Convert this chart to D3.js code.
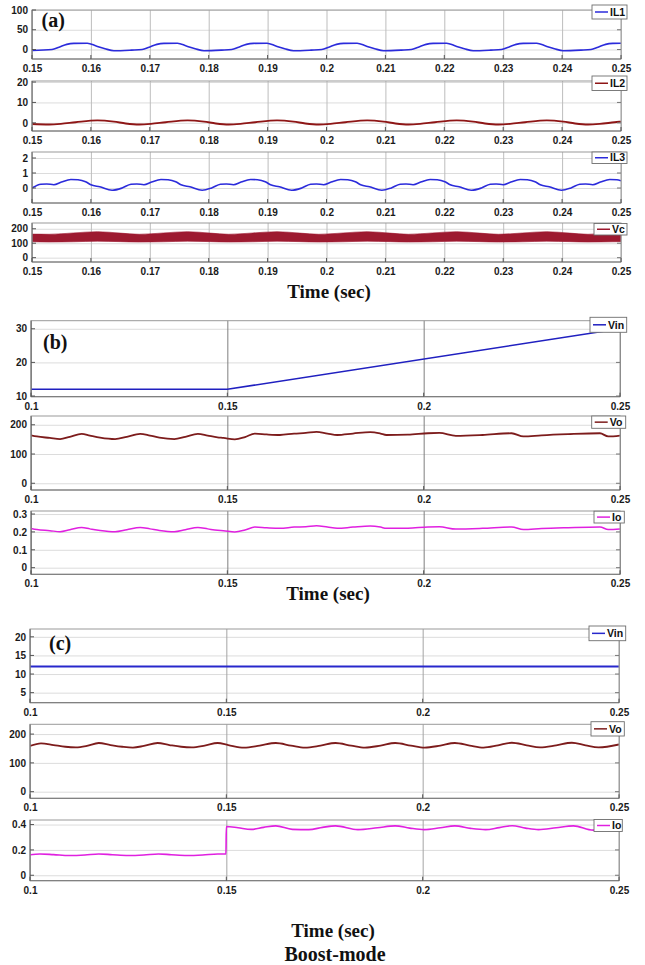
<!DOCTYPE html>
<html><head><meta charset="utf-8">
<script src="https://cdn.jsdelivr.net/npm/d3@7"></script>
<style>body{margin:0;background:#fff}</style>
</head><body><svg id="chart" width="645" height="965"></svg>
<script>
// ---------------- DATA ----------------
const xTicksA = [0.15,0.16,0.17,0.18,0.19,0.20,0.21,0.22,0.23,0.24,0.25];
const xLabelsA = ["0.15","0.16","0.17","0.18","0.19","0.2","0.21","0.22","0.23","0.24","0.25"];
const xTicksBC = [0.10,0.15,0.20,0.25];
const xLabelsBC = ["0.1","0.15","0.2","0.25"];

const yTicksIL1 = [0,50,100],  yLabelsIL1 = ["0","50","100"];
const yTicksIL2 = [0,10,20],   yLabelsIL2 = ["0","10","20"];
const yTicksIL3 = [0,1,2],     yLabelsIL3 = ["0","1","2"];
const yTicksVc  = [0,100,200], yLabelsVc  = ["0","100","200"];
const yTicksVinB = [10,20,30], yLabelsVinB = ["10","20","30"];
const yTicksVo  = [0,100,200], yLabelsVo  = ["0","100","200"];
const yTicksIoB = [0,0.1,0.2,0.3], yLabelsIoB = ["0","0.1","0.2","0.3"];
const yTicksVinC = [5,10,15,20], yLabelsVinC = ["5","10","15","20"];
const yTicksIoC = [0,0.2,0.4], yLabelsIoC = ["0","0.2","0.4"];

const IL1 = [
[0.1500,-2.5],
[0.1534,0],[0.1546,6],[0.1559,13],[0.1571,15.5],[0.1594,16],[0.1609,9],[0.1624,2],[0.1639,-3],[0.1669,-1.5],
[0.1687,0],[0.1699,6],[0.1712,13],[0.1724,15.5],[0.1747,16],[0.1762,9],[0.1777,2],[0.1792,-3],[0.1822,-1.5],
[0.1839,0],[0.1851,6],[0.1864,13],[0.1876,15.5],[0.1899,16],[0.1914,9],[0.1929,2],[0.1944,-3],[0.1974,-1.5],
[0.1992,0],[0.2004,6],[0.2017,13],[0.2029,15.5],[0.2052,16],[0.2067,9],[0.2082,2],[0.2097,-3],[0.2127,-1.5],
[0.2144,0],[0.2156,6],[0.2169,13],[0.2181,15.5],[0.2204,16],[0.2219,9],[0.2234,2],[0.2249,-3],[0.2279,-1.5],
[0.2297,0],[0.2309,6],[0.2322,13],[0.2334,15.5],[0.2357,16],[0.2372,9],[0.2387,2],[0.2402,-3],[0.2432,-1.5],
[0.2449,0],[0.2461,6],[0.2474,13],[0.2486,15.5],[0.2500,16]
];

const IL2 = [
[0.1500,-0.6],
[0.1529,-0.8],[0.1549,-0.5],[0.1574,0.3],[0.1611,1.2],[0.1639,0.6],[0.1659,-0.3],
[0.1682,-0.8],[0.1702,-0.5],[0.1727,0.3],[0.1764,1.2],[0.1792,0.6],[0.1812,-0.3],
[0.1834,-0.8],[0.1854,-0.5],[0.1879,0.3],[0.1916,1.2],[0.1944,0.6],[0.1964,-0.3],
[0.1987,-0.8],[0.2007,-0.5],[0.2032,0.3],[0.2069,1.2],[0.2097,0.6],[0.2117,-0.3],
[0.2139,-0.8],[0.2159,-0.5],[0.2184,0.3],[0.2221,1.2],[0.2249,0.6],[0.2269,-0.3],
[0.2292,-0.8],[0.2312,-0.5],[0.2337,0.3],[0.2374,1.2],[0.2402,0.6],[0.2422,-0.3],
[0.2444,-0.8],[0.2464,-0.5],[0.2489,0.3],[0.2500,0.6]
];

const IL3 = [
[0.1500,0],[0.1515,0.25],[0.1525,0.27],[0.1537,0.22],[0.1550,0.40],[0.1566,0.57],[0.1578,0.55],[0.1591,0.42],[0.1600,0.22],[0.1615,0.08],[0.1636,-0.15],
[0.1653,0],[0.1668,0.25],[0.1678,0.27],[0.1690,0.22],[0.1703,0.40],[0.1719,0.57],[0.1731,0.55],[0.1744,0.42],[0.1753,0.22],[0.1768,0.08],[0.1789,-0.15],
[0.1805,0],[0.1820,0.25],[0.1830,0.27],[0.1842,0.22],[0.1855,0.40],[0.1871,0.57],[0.1883,0.55],[0.1896,0.42],[0.1905,0.22],[0.1920,0.08],[0.1941,-0.15],
[0.1958,0],[0.1973,0.25],[0.1983,0.27],[0.1995,0.22],[0.2008,0.40],[0.2024,0.57],[0.2036,0.55],[0.2049,0.42],[0.2058,0.22],[0.2073,0.08],[0.2094,-0.15],
[0.2110,0],[0.2125,0.25],[0.2135,0.27],[0.2147,0.22],[0.2160,0.40],[0.2176,0.57],[0.2188,0.55],[0.2201,0.42],[0.2210,0.22],[0.2225,0.08],[0.2246,-0.15],
[0.2263,0],[0.2278,0.25],[0.2288,0.27],[0.2300,0.22],[0.2313,0.40],[0.2329,0.57],[0.2341,0.55],[0.2354,0.42],[0.2363,0.22],[0.2378,0.08],[0.2399,-0.15],
[0.2415,0],[0.2430,0.25],[0.2440,0.27],[0.2452,0.22],[0.2465,0.40],[0.2481,0.57],[0.2493,0.55],[0.2500,0.48]
];

// Vc ripple band: [t, lower envelope, upper envelope]
const VcBand = [
[0.1500,110,163],[0.1529,108,162],[0.1570,110,171],[0.1611,114,180],[0.1650,111,170],
[0.1682,108,162],[0.1723,110,171],[0.1764,114,180],[0.1803,111,170],
[0.1834,108,162],[0.1875,110,171],[0.1916,114,180],[0.1955,111,170],
[0.1987,108,162],[0.2028,110,171],[0.2069,114,180],[0.2108,111,170],
[0.2139,108,162],[0.2180,110,171],[0.2221,114,180],[0.2260,111,170],
[0.2292,108,162],[0.2333,110,171],[0.2374,114,180],[0.2413,111,170],
[0.2444,108,162],[0.2485,110,171],[0.2500,111,173]
];

const VinB = [[0.10,12],[0.15,12],[0.25,30]];

const VoB = [
[0.1000,164],[0.1015,160],[0.1048,155],[0.1074,151],[0.1099,159],[0.1129,169],[0.1150,163],[0.1176,156],
[0.1214,151],[0.1244,159],[0.1278,169],[0.1303,163],[0.1327,156],[0.1365,151],[0.1393,159],[0.1425,169],
[0.1450,163],[0.1475,157],[0.1490,155],[0.1519,150],[0.1545,158],[0.1570,170],[0.1600,167],[0.1634,165],
[0.1670,170],[0.1700,172],[0.1727,176],[0.1755,170],[0.1780,165],[0.1820,170],[0.1864,175],[0.1890,170],
[0.1905,165],[0.1960,166],[0.2011,171],[0.2040,172],[0.2082,162],[0.2150,165],[0.2224,171],[0.2254,160],
[0.2300,164],[0.2368,168],[0.2449,171],[0.2470,160],[0.2500,163]
];

const IoB = [
[0.1000,0.219],[0.1015,0.213],[0.1048,0.207],[0.1074,0.201],[0.1099,0.212],[0.1129,0.225],[0.1150,0.217],[0.1176,0.208],
[0.1214,0.201],[0.1244,0.212],[0.1278,0.225],[0.1303,0.217],[0.1327,0.208],[0.1365,0.201],[0.1393,0.212],[0.1425,0.225],
[0.1450,0.217],[0.1475,0.209],[0.1490,0.207],[0.1519,0.200],[0.1545,0.211],[0.1570,0.227],[0.1600,0.223],[0.1634,0.220],
[0.1670,0.227],[0.1700,0.229],[0.1727,0.235],[0.1755,0.227],[0.1780,0.220],[0.1820,0.227],[0.1864,0.233],[0.1890,0.227],
[0.1905,0.220],[0.1960,0.221],[0.2011,0.228],[0.2040,0.229],[0.2082,0.216],[0.2150,0.220],[0.2224,0.228],[0.2254,0.213],
[0.2300,0.219],[0.2368,0.224],[0.2449,0.228],[0.2470,0.213],[0.2500,0.217]
];

const VinC = [[0.10,12],[0.25,12]];

const VoC = [
[0.1000,159],[0.1028,168],[0.1060,162],[0.1090,156],[0.1117,154],[0.1145,159],[0.1175,169],[0.1205,162],
[0.1235,156],[0.1262,153],[0.1290,159],[0.1325,169],[0.1355,162],[0.1385,156],[0.1412,154],[0.1445,160],
[0.1478,169],[0.1505,162],[0.1545,153],[0.1585,160],[0.1626,169],[0.1665,160],[0.1700,153],[0.1740,160],
[0.1778,169],[0.1818,160],[0.1853,153],[0.1893,160],[0.1930,169],[0.1970,160],[0.2005,153],[0.2045,160],
[0.2082,169],[0.2120,160],[0.2155,153],[0.2192,161],[0.2227,170],[0.2265,161],[0.2299,154],[0.2340,161],
[0.2380,170],[0.2415,161],[0.2448,154],[0.2500,164]
];

const IoC = [
[0.1000,0.162],[0.1025,0.168],[0.1060,0.163],[0.1100,0.156],[0.1140,0.160],[0.1175,0.168],[0.1210,0.162],
[0.1250,0.156],[0.1290,0.160],[0.1327,0.168],[0.1360,0.162],[0.1400,0.156],[0.1440,0.160],[0.1478,0.168],
[0.1499,0.168],[0.1500,0.385],[0.1530,0.375],[0.1563,0.362],[0.1595,0.378],[0.1626,0.390],[0.1668,0.362],
[0.1710,0.360],[0.1745,0.378],[0.1778,0.390],[0.1835,0.360],[0.1885,0.375],[0.1930,0.390],[0.1967,0.372],
[0.2004,0.360],[0.2045,0.375],[0.2082,0.390],[0.2122,0.370],[0.2160,0.360],[0.2195,0.376],[0.2228,0.391],
[0.2262,0.372],[0.2295,0.360],[0.2340,0.375],[0.2384,0.390],[0.2434,0.356],[0.2470,0.365],[0.2500,0.372]
];

// ---------------- LAYOUT ----------------
const panels = [
 {name:"IL1", data:IL1, type:"line", color:"#2b2bdb", width:1.6, left:32, right:621, top:10, bottom:59, yDom:[-24,100], yT:yTicksIL1, yL:yLabelsIL1, xDom:[0.15,0.25], xT:xTicksA, xL:xLabelsA, grid:"#bdbdbd", leg:[592,5,627,19]},
 {name:"IL2", data:IL2, type:"line", color:"#8e1616", width:1.9, left:32, right:621, top:81, bottom:131, yDom:[-4,20.5], yT:yTicksIL2, yL:yLabelsIL2, xDom:[0.15,0.25], xT:xTicksA, xL:xLabelsA, grid:"#bdbdbd", leg:[592,76,627,90.5]},
 {name:"IL3", data:IL3, type:"line", color:"#2b2bdb", width:1.6, left:32, right:621, top:152, bottom:203, yDom:[-1,2.4], yT:yTicksIL3, yL:yLabelsIL3, xDom:[0.15,0.25], xT:xTicksA, xL:xLabelsA, grid:"#bdbdbd", leg:[592,152,627,163.5]},
 {name:"Vc", data:VcBand, type:"band", color:"#9d1a30", width:1, left:32, right:621, top:223, bottom:262, yDom:[-30,240], yT:yTicksVc, yL:yLabelsVc, xDom:[0.15,0.25], xT:xTicksA, xL:xLabelsA, grid:"#bdbdbd", leg:[594,223.5,627,235]},
 {name:"Vin", data:VinB, type:"line", linear:true, color:"#2020c0", width:1.5, left:31, right:620, top:320.7, bottom:396.7, yDom:[9.8,32.4], yT:yTicksVinB, yL:yLabelsVinB, xDom:[0.1,0.25], xT:xTicksBC, xL:xLabelsBC, grid:"#7f7f7f", leg:[590,317.3,626.7,332.3]},
 {name:"Vo", data:VoB, type:"line", color:"#7d1c1c", width:1.8, left:31, right:620, top:416, bottom:490, yDom:[-23,230], yT:yTicksVo, yL:yLabelsVo, xDom:[0.1,0.25], xT:xTicksBC, xL:xLabelsBC, grid:"#7f7f7f", leg:[591.7,416,625.7,428.3]},
 {name:"Io", data:IoB, type:"line", color:"#e020e0", width:1.5, left:31, right:620, top:511, bottom:574.3, yDom:[-0.037,0.317], yT:yTicksIoB, yL:yLabelsIoB, xDom:[0.1,0.25], xT:xTicksBC, xL:xLabelsBC, grid:"#7f7f7f", leg:[594,511.2,624.3,523]},
 {name:"Vin", data:VinC, type:"line", linear:true, color:"#2828cc", width:2, left:30, right:619, top:629, bottom:702.7, yDom:[2.3,22.1], yT:yTicksVinC, yL:yLabelsVinC, xDom:[0.1,0.25], xT:xTicksBC, xL:xLabelsBC, grid:"#a5a5a5", leg:[589,626,625.7,640.7]},
 {name:"Vo", data:VoC, type:"line", color:"#7d1c1c", width:1.8, left:30, right:619, top:724.3, bottom:798.3, yDom:[-23,234], yT:yTicksVo, yL:yLabelsVo, xDom:[0.1,0.25], xT:xTicksBC, xL:xLabelsBC, grid:"#a5a5a5", leg:[591,721.7,624.3,736]},
 {name:"Io", data:IoC, type:"line", color:"#e020e0", width:1.6, left:30, right:619, top:820, bottom:880.7, yDom:[-0.043,0.436], yT:yTicksIoC, yL:yLabelsIoC, xDom:[0.1,0.25], xT:xTicksBC, xL:xLabelsBC, grid:"#a5a5a5", leg:[594,819.5,622.3,831.5]}
];

const sans = "'Liberation Sans', Arial, Helvetica, sans-serif";
const serif = "'Liberation Serif', 'Times New Roman', Times, serif";

const svg = d3.select("#chart");
svg.append("rect").attr("width",645).attr("height",965).attr("fill","#fff");

panels.forEach((p, idx) => {
  const x = d3.scaleLinear().domain(p.xDom).range([p.left, p.right]);
  const y = d3.scaleLinear().domain(p.yDom).range([p.bottom, p.top]);
  const w = p.right - p.left, h = p.bottom - p.top;
  const g = svg.append("g");

  g.append("rect").attr("x",p.left).attr("y",p.top).attr("width",w).attr("height",h).attr("fill","#fff");

  const ya = g.append("g").attr("transform",`translate(${p.left},0)`)
    .call(d3.axisLeft(y).tickValues(p.yT).tickFormat((d,i)=>p.yL[i]).tickSize(-w).tickPadding(4));
  ya.select(".domain").remove();
  ya.selectAll(".tick line").attr("stroke","#dcdcdc").attr("stroke-width",1);
  ya.selectAll(".tick text").attr("font-family",sans).attr("font-weight","bold").attr("font-size",10).attr("fill","#1a1a1a");

  const xa = g.append("g").attr("transform",`translate(0,${p.bottom})`)
    .call(d3.axisBottom(x).tickValues(p.xT).tickFormat((d,i)=>p.xL[i]).tickSize(-h).tickPadding(6));
  xa.select(".domain").remove();
  xa.selectAll(".tick line").attr("stroke",p.grid).attr("stroke-width",1);
  xa.selectAll(".tick text").attr("font-family",sans).attr("font-weight","bold").attr("font-size",10).attr("fill","#1a1a1a");

  const cid = "clip"+idx;
  svg.append("clipPath").attr("id",cid).append("rect").attr("x",p.left).attr("y",p.top).attr("width",w).attr("height",h);

  if (p.type === "band") {
    const area = d3.area().x(d=>x(d[0])).y0(d=>y(d[1])).y1(d=>y(d[2])).curve(d3.curveMonotoneX);
    g.append("path").datum(p.data).attr("d",area).attr("fill",p.color).attr("stroke",p.color).attr("stroke-width",0.6).attr("clip-path",`url(#${cid})`);
  } else {
    const line = d3.line().x(d=>x(d[0])).y(d=>y(d[1])).curve(p.linear ? d3.curveLinear : d3.curveMonotoneX);
    g.append("path").datum(p.data).attr("d",line).attr("fill","none").attr("stroke",p.color)
      .attr("stroke-width",p.width).attr("stroke-linejoin","round").attr("clip-path",`url(#${cid})`);
  }

  g.append("rect").attr("x",p.left).attr("y",p.top).attr("width",w).attr("height",h)
    .attr("fill","none").attr("stroke","#9a9a9a").attr("stroke-width",1);
  g.append("line").attr("x1",p.left).attr("x2",p.left).attr("y1",p.top).attr("y2",p.bottom).attr("stroke","#777");
  g.append("line").attr("x1",p.left).attr("x2",p.right).attr("y1",p.bottom).attr("y2",p.bottom).attr("stroke","#777");

  g.selectAll(".ytl").data(p.yT).join("line").attr("x1",p.left).attr("x2",p.left+4)
    .attr("y1",d=>y(d)).attr("y2",d=>y(d)).attr("stroke","#555");
  g.selectAll(".ytr").data(p.yT).join("line").attr("x1",p.right-4).attr("x2",p.right)
    .attr("y1",d=>y(d)).attr("y2",d=>y(d)).attr("stroke","#777");
  g.selectAll(".xtb").data(p.xT).join("line").attr("x1",d=>x(d)).attr("x2",d=>x(d))
    .attr("y1",p.bottom-4).attr("y2",p.bottom).attr("stroke","#555");

  const [lx0,ly0,lx1,ly1] = p.leg;
  const lm = (ly0+ly1)/2;
  g.append("rect").attr("x",lx0).attr("y",ly0).attr("width",lx1-lx0).attr("height",ly1-ly0)
    .attr("fill","#fff").attr("stroke","#6e6e6e").attr("stroke-width",0.9);
  g.append("line").attr("x1",lx0+3).attr("x2",lx0+16).attr("y1",lm).attr("y2",lm)
    .attr("stroke",p.color).attr("stroke-width",1.5);
  g.append("text").attr("x",lx0+18).attr("y",lm+3.7).text(p.name)
    .attr("font-family",sans).attr("font-weight","bold").attr("font-size",10.5).attr("fill","#111");
});

const letters = [["(a)",41.5,26.5],["(b)",43,348.5],["(c)",49,649.5]];
svg.selectAll(".letter").data(letters).join("text").attr("x",d=>d[1]).attr("y",d=>d[2]).text(d=>d[0])
  .attr("font-family",serif).attr("font-weight","bold").attr("font-size",20).attr("fill","#111");

const titles = [["Time (sec)",329,297.5,19],["Time (sec)",328,600,19],["Time (sec)",333,937,19],["Boost-mode",335,961,20]];
svg.selectAll(".title").data(titles).join("text").attr("x",d=>d[1]).attr("y",d=>d[2]).text(d=>d[0])
  .attr("text-anchor","middle").attr("font-family",serif).attr("font-weight","bold").attr("font-size",d=>d[3]).attr("fill","#111");
</script>
</body></html>
